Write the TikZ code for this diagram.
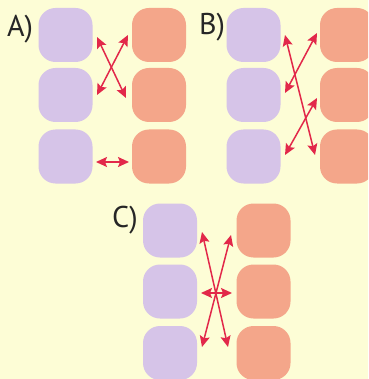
\documentclass[tikz,border=0pt]{standalone}
\usepackage{fontspec}
\setmainfont{PT Sans}
\usetikzlibrary{arrows.meta}
\definecolor{bg}{RGB}{253,253,214}
\definecolor{lilac}{RGB}{214,196,232}
\definecolor{salmon}{RGB}{244,166,138}
\definecolor{arr}{RGB}{226,40,74}
\tikzset{
  box/.style={minimum width=54pt, minimum height=54pt, rounded corners=17pt, inner sep=0pt, draw=none},
  lbox/.style={box, fill=lilac},
  obox/.style={box, fill=salmon},
  lab/.style={font=\fontsize{30}{30}\selectfont, text=black!85, inner sep=0pt},
  link/.style={draw=arr, line width=1.5pt, {Stealth[length=11pt,width=10pt,inset=2pt]}-{Stealth[length=11pt,width=10pt,inset=2pt]}}
}
\begin{document}
\begin{tikzpicture}[x=1pt,y=-1pt]
\useasboundingbox (0,0) rectangle (368,379);
\fill[bg] (0,0) rectangle (368,379);
% Panel A
\node[lbox] (a1) at (65.5,35) {};
\node[lbox] (a2) at (65.5,95) {};
\node[lbox] (a3) at (65.5,156.5) {};
\node[obox] (a4) at (159,35) {};
\node[obox] (a5) at (159,95) {};
\node[obox] (a6) at (159,156.5) {};
\node[lab] (la) at (20,29) {A)};
\coordinate (pa1) at (97,37);
\coordinate (pa2) at (126,98);
\coordinate (pa3) at (128,35);
\coordinate (pa4) at (97,95);
\coordinate (pa5) at (96,162);
\coordinate (pa6) at (129,162);
\draw[link] (pa1) -- (pa2);
\draw[link] (pa3) -- (pa4);
\draw[link] (pa5) -- (pa6);
% Panel B
\begin{scope}
\clip (0,0) rectangle (368,379);
\node[lbox] (b1) at (253.5,35) {};
\node[lbox] (b2) at (253.5,95) {};
\node[lbox] (b3) at (253.5,156.5) {};
\node[obox] (b4) at (347,35) {};
\node[obox] (b5) at (347,95) {};
\node[obox] (b6) at (347,156.5) {};
\end{scope}
\node[lab] (lb) at (212,27) {B)};
\coordinate (pb1) at (285,35);
\coordinate (pb2) at (315,155);
\coordinate (pb3) at (317,33);
\coordinate (pb4) at (285,93);
\coordinate (pb5) at (317,98);
\coordinate (pb6) at (285,155);
\draw[link] (pb1) -- (pb2);
\draw[link] (pb3) -- (pb4);
\draw[link] (pb5) -- (pb6);
% Panel C
\node[lbox] (c1) at (170,230.5) {};
\node[lbox] (c2) at (170,291.5) {};
\node[lbox] (c3) at (170,353) {};
\node[obox] (c4) at (263.5,230.5) {};
\node[obox] (c5) at (263.5,291.5) {};
\node[obox] (c6) at (263.5,353) {};
\node[lab] (lc) at (125,220) {C)};
\coordinate (pc1) at (202,232);
\coordinate (pc2) at (228,347);
\coordinate (pc3) at (231,235);
\coordinate (pc4) at (202,347);
\coordinate (pc5) at (201,293);
\coordinate (pc6) at (232,293);
\draw[link] (pc1) -- (pc2);
\draw[link] (pc3) -- (pc4);
\draw[link] (pc5) -- (pc6);
\end{tikzpicture}
\end{document}
